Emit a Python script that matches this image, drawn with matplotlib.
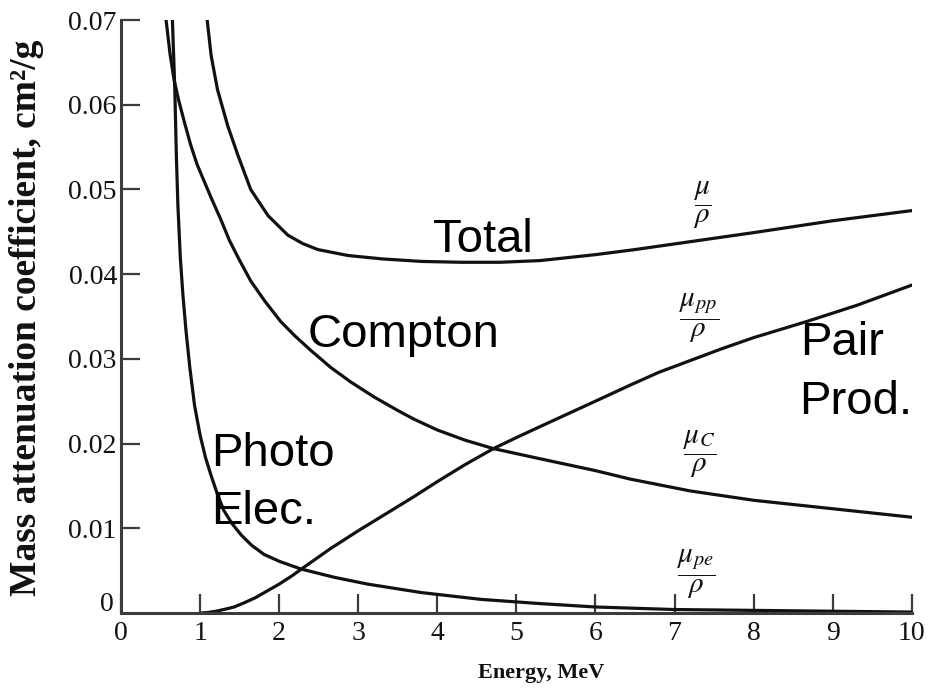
#!/usr/bin/env python3
"""Mass attenuation coefficient vs photon energy (photo, Compton, pair, total)."""

from __future__ import annotations

import matplotlib

matplotlib.use("Agg")
import matplotlib.pyplot as plt

# values (energy in MeV, mu/rho in cm^2/g)
total_energy = [1.09, 1.14, 1.22, 1.35, 1.48, 1.64, 1.86, 2.11, 2.30, 2.49,
                2.87, 3.30, 3.80, 4.30, 4.80, 5.30, 6.00, 6.50, 7.10, 8.00,
                9.00, 10.00]
total_mu = [0.0700, 0.0658, 0.0618, 0.0575, 0.0540, 0.0500, 0.0469, 0.0446,
            0.0436, 0.0429, 0.0422, 0.0418, 0.0415, 0.0414, 0.0414, 0.0416,
            0.0423, 0.0429, 0.0437, 0.0449, 0.0463, 0.0475]

compton_energy = [0.57, 0.62, 0.67, 0.73, 0.80, 0.88, 0.96, 1.05, 1.15, 1.26,
                  1.37, 1.49, 1.64, 1.82, 2.02, 2.20, 2.40, 2.65, 2.90, 3.20,
                  3.50, 3.70, 4.00, 4.35, 4.71, 5.30, 6.00, 6.44, 7.20, 8.00,
                  9.00, 10.00]
compton_mu = [0.0700, 0.0660, 0.0630, 0.0605, 0.0580, 0.0553, 0.0530, 0.0510,
              0.0488, 0.0465, 0.0440, 0.0418, 0.0392, 0.0368, 0.0344, 0.0327,
              0.0310, 0.0290, 0.0273, 0.0255, 0.0239, 0.0229, 0.0216, 0.0204,
              0.0194, 0.0182, 0.0168, 0.0158, 0.0144, 0.0133, 0.0123, 0.0113]

photo_energy = [0.65, 0.68, 0.70, 0.72, 0.75, 0.78, 0.82, 0.87, 0.93, 1.00,
                1.07, 1.14, 1.22, 1.30, 1.40, 1.52, 1.65, 1.81, 2.00, 2.27,
                2.70, 3.12, 3.80, 4.55, 5.30, 6.00, 7.00, 8.00, 9.00, 10.00]
photo_mu = [0.0700, 0.0620, 0.0540, 0.0480, 0.0420, 0.0379, 0.0335, 0.0290,
            0.0245, 0.0210, 0.0183, 0.0162, 0.0140, 0.0121, 0.0106, 0.0092,
            0.0080, 0.0069, 0.0061, 0.0052, 0.0042, 0.0034, 0.0024, 0.0016,
            0.0011, 0.0007, 0.0004, 0.0003, 0.0002, 0.0001]

pair_energy = [1.02, 1.10, 1.20, 1.30, 1.43, 1.56, 1.70, 1.85, 2.00, 2.15,
               2.30, 2.65, 3.00, 3.35, 3.70, 4.00, 4.35, 4.71, 5.00, 5.30,
               5.65, 6.00, 6.44, 6.80, 7.20, 7.60, 8.00, 8.67, 9.30, 10.00]
pair_mu = [0.0000, 0.00005, 0.0002, 0.0004, 0.0007, 0.0012, 0.0018, 0.0026,
           0.0034, 0.0043, 0.0053, 0.0076, 0.0097, 0.0117, 0.0137, 0.0155,
           0.0175, 0.0194, 0.0207, 0.0220, 0.0235, 0.0250, 0.0269, 0.0284,
           0.0298, 0.0312, 0.0325, 0.0344, 0.0363, 0.0387]

x_ticks = list(range(0, 11))
x_tick_labels = [str(v) for v in x_ticks]
y_ticks = [0.01, 0.02, 0.03, 0.04, 0.05, 0.06, 0.07]
y_tick_labels = ["0.01", "0.02", "0.03", "0.04", "0.05", "0.06", "0.07"]

SERIF = ["Liberation Serif", "DejaVu Serif"]
SANS = ["Liberation Sans", "DejaVu Sans"]
INK = "#111111"
AXIS = "#3c3c3c"


def main() -> int:
    plt.rcParams["mathtext.fontset"] = "stix"

    fig = plt.figure(figsize=(9.38, 6.91), dpi=100)
    ax = fig.add_axes([0.129, 0.113, 0.843, 0.858])

    for xs, ys in ((total_energy, total_mu), (compton_energy, compton_mu),
                   (photo_energy, photo_mu), (pair_energy, pair_mu)):
        ax.plot(xs, ys, color=INK, linewidth=2.3, solid_capstyle="round",
                solid_joinstyle="round")

    ax.set_xlim(0, 10)
    ax.set_ylim(0, 0.07)
    for side in ("top", "right"):
        ax.spines[side].set_visible(False)
    for side in ("left", "bottom"):
        ax.spines[side].set_color(AXIS)
        ax.spines[side].set_linewidth(2.2)

    ax.set_xticks(x_ticks, x_tick_labels, family=SERIF, fontsize=20)
    ax.set_yticks(y_ticks, y_tick_labels, family=SERIF, fontsize=20)
    ax.tick_params(axis="both", direction="in", length=14, width=1.6,
                   color=AXIS, labelcolor=INK)
    ax.tick_params(axis="x", pad=6)
    ax.tick_params(axis="y", pad=3)
    # the zero of the y scale sits just above the x axis in the original
    ax.annotate("0", xy=(0, 0), xytext=(-5, -3), textcoords="offset points",
                ha="right", va="bottom", family=SERIF, fontsize=20,
                color=INK)

    fig.text(27 / 938, 1 - 318 / 691, "Mass attenuation coefficient, cm\u00b2/g",
             rotation=90, ha="center", va="center", family=SERIF,
             fontweight="bold", fontsize=27, color=INK)
    fig.text(541 / 938, 1 - 673 / 691, "Energy, MeV", ha="center",
             va="center", family=SERIF, fontweight="bold", fontsize=16,
             color=INK)

    # curve symbols, printed as fractions in the original
    fracs = [
        (7.35, 0.0481, r"$\dfrac{\mu}{\rho}$"),
        (7.31, 0.0348, r"$\dfrac{\mu_{pp}}{\rho}$"),
        (7.32, 0.0187, r"$\dfrac{\mu_{C}}{\rho}$"),
        (7.28, 0.0046, r"$\dfrac{\mu_{pe}}{\rho}$"),
    ]
    for fx, fy, s in fracs:
        ax.text(fx, fy, s, ha="center", va="center", fontsize=21, color=INK)

    # overlaid Arial-style labels
    big = dict(family=SANS, fontsize=34, color="black", va="baseline",
               ha="left")
    ax.text(3.94, 0.0426, "Total", **big)
    ax.text(2.36, 0.0314, "Compton", **big)
    ax.text(1.14, 0.0173, "Photo", **big)
    ax.text(1.14, 0.0105, "Elec.", **big)
    ax.text(8.59, 0.0305, "Pair", **big)
    ax.text(8.57, 0.0235, "Prod.", **big)

    fig.savefig("out.png", dpi=100)
    plt.close(fig)
    return 0


if __name__ == "__main__":
    raise SystemExit(main())
